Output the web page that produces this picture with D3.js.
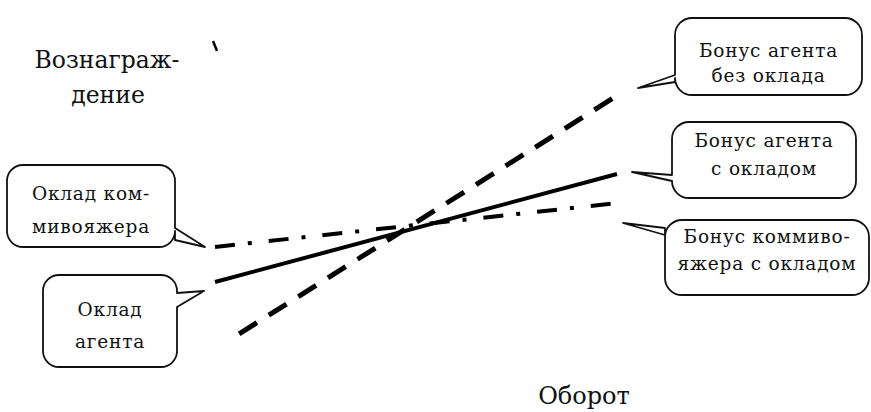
<!DOCTYPE html>
<html><head><meta charset="utf-8">
<script src="https://cdn.jsdelivr.net/npm/d3@7"></script>
<style>
html,body{margin:0;padding:0;background:#fff;}
svg{display:block;}
text{font-family:"DejaVu Serif",serif;fill:#111;}
</style></head>
<body>
<svg id="chart" width="871" height="412"></svg>
<script>
// ---- data ----
const seriesNames = ["Бонус агента без оклада", "Бонус агента с окладом", "Бонус коммивояжера с окладом"];
const turnoverAgentNoSalary = [6, 100];
const rewardAgentNoSalary = [8.7, 88.1];
const turnoverAgentSalary = [0, 100];
const rewardAgentSalary = [26, 62];
const turnoverSalesmanSalary = [0, 100];
const rewardSalesmanSalary = [37.7, 52.3];
const yAxisLabel = ["Вознаграж-", "дение"];
const xAxisLabel = "Оборот";
const calloutTexts = [
  ["Оклад ком-", "мивояжера"],
  ["Оклад", "агента"],
  ["Бонус агента", "без оклада"],
  ["Бонус агента", "с окладом"],
  ["Бонус коммиво-", "яжера с окладом"]
];

const svg = d3.select("#chart");
const x = d3.scaleLinear().domain([0, 100]).range([215, 617]);
const y = d3.scaleLinear().domain([0, 100]).range([360, 60]);
const line = d3.line().x(d => x(d[0])).y(d => y(d[1]));

const series = [
  {xs: turnoverAgentNoSalary, ys: rewardAgentNoSalary, dash: "21,14", w: 5},
  {xs: turnoverAgentSalary, ys: rewardAgentSalary, dash: null, w: 4},
  {xs: turnoverSalesmanSalary, ys: rewardSalesmanSalary, dash: "20,13,4,17", w: 4}
];
series.forEach(s => {
  svg.append("path")
    .datum(d3.zip(s.xs, s.ys))
    .attr("d", line)
    .attr("fill", "none")
    .attr("stroke", "#000")
    .attr("stroke-width", s.w)
    .attr("stroke-dasharray", s.dash);
});

// small scan mark
svg.append("path").attr("d", "M213,41 L217,51").attr("stroke", "#000").attr("stroke-width", 2.5).attr("fill","none");

function callout(b) {
  const {x0, y0, x1, y1, r, side, t0, t1, tip} = b;
  let p = d3.path();
  p.moveTo(x0 + r, y0);
  p.lineTo(x1 - r, y0);
  p.arcTo(x1, y0, x1, y0 + r, r);
  if (side === "right") {
    p.lineTo(x1, t0);
    p.lineTo(tip[0], tip[1]);
    p.lineTo(x1, t1);
  }
  p.lineTo(x1, y1 - r);
  p.arcTo(x1, y1, x1 - r, y1, r);
  p.lineTo(x0 + r, y1);
  p.arcTo(x0, y1, x0, y1 - r, r);
  if (side === "left") {
    p.lineTo(x0, t1);
    p.lineTo(tip[0], tip[1]);
    p.lineTo(x0, t0);
  }
  p.lineTo(x0, y0 + r);
  p.arcTo(x0, y0, x0 + r, y0, r);
  p.closePath();
  svg.append("path").attr("d", p.toString())
    .attr("fill", "#fff").attr("stroke", "#111").attr("stroke-width", 1.8)
    .attr("stroke-linejoin", "round");
}
const boxes = [
  {x0: 7, y0: 165, x1: 175, y1: 247, r: 16, side: "right", t0: 228, t1: 240, tip: [205, 247], lines: [200, 233]},
  {x0: 43, y0: 275, x1: 177, y1: 367, r: 16, side: "right", t0: 293, t1: 307, tip: [204, 291], lines: [316, 348]},
  {x0: 675, y0: 18, x1: 862, y1: 95, r: 17, side: "left", t0: 75, t1: 82, tip: [638, 88], lines: [57, 82]},
  {x0: 672, y0: 122, x1: 856, y1: 198, r: 17, side: "left", t0: 175, t1: 181, tip: [632, 172], lines: [147, 175]},
  {x0: 665, y0: 220, x1: 869, y1: 295, r: 17, side: "left", t0: 228, t1: 235, tip: [623, 223], lines: [243, 270]}
];
boxes.forEach((b, i) => {
  callout(b);
  const cx = (b.x0 + b.x1) / 2;
  calloutTexts[i].forEach((t, j) => {
    svg.append("text").attr("x", cx).attr("y", b.lines[j])
      .attr("text-anchor", "middle").attr("font-size", 18.5)
      .attr("letter-spacing", 0.8)
      .text(t);
  });
});

// axis labels
svg.append("text").attr("x", 107).attr("y", 68).attr("text-anchor", "middle").attr("font-size", 23.5).text(yAxisLabel[0]);
svg.append("text").attr("x", 108).attr("y", 103).attr("text-anchor", "middle").attr("font-size", 23.5).text(yAxisLabel[1]);
svg.append("text").attr("x", 584).attr("y", 404).attr("text-anchor", "middle").attr("font-size", 24).text(xAxisLabel);
</script>
</body></html>
